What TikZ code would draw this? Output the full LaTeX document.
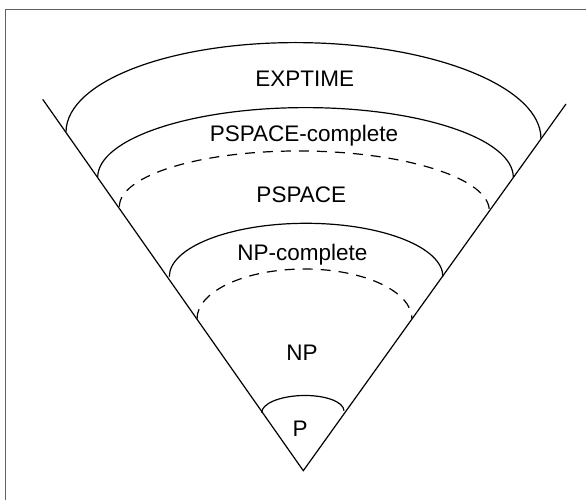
\documentclass[tikz,border=0pt]{standalone}
\usepackage{fontspec}
\setmainfont{Liberation Sans}
\begin{document}
\begin{tikzpicture}[x=1pt,y=1pt,
  frame/.style={draw=black!62,line width=1pt},
  cone/.style={line width=1.2pt,black,line join=miter},
  band/.style={line width=1.2pt,black},
  inner/.style={band,dash pattern=on 10pt off 8pt},
  lbl/.style={font=\fontsize{22.5}{27}\selectfont,inner sep=0pt,anchor=base}]
\useasboundingbox (0,0) rectangle (586,499);
% page frame (top and left edges)
\draw[frame] (5.5,-5) -- (5.5,489.7) -- (600,489.7);

% the cone
\coordinate (apex) at (303.3,28.3);
\coordinate (lt) at (42.7,399.7);
\coordinate (rt) at (566,395);
\draw[cone] (lt) -- (apex) -- (rt);

% band boundaries, left ends on the cone
\coordinate (eExp) at (66,367.3);
\coordinate (ePsc) at (97.7,321.7);
\coordinate (ePs)  at (119.3,292.3);
\coordinate (eNpc) at (169.3,222.3);
\coordinate (eNp)  at (197,180);
\coordinate (eP)   at (261.7,86.3);

\draw[band,rotate around={-0.88:(eExp)}] (eExp) arc[start angle=180,end angle=0,x radius=237.5,y radius=92.7];
\draw[band] (ePsc) arc[start angle=180,end angle=0,x radius=207.8,y radius=69.7];
\draw[inner,rotate around={-0.62:(ePs)}] (ePs) arc[start angle=180,end angle=0,x radius=185,y radius=57.7];
\draw[band] (eNpc) arc[start angle=180,end angle=0,x radius=136.8,y radius=53.4];
\draw[inner] (eNp) arc[start angle=180,end angle=0,x radius=107.5,y radius=50];
\draw[band,rotate around={1.4:(eP)}] (eP) arc[start angle=180,end angle=0,x radius=41.15,y radius=16.2];

% class labels
\node[lbl] (exptime) at (304.7,412.3) {EXPTIME};
\node[lbl] (pspacec) at (304,357.3) {PSPACE-complete};
\node[lbl] (pspace)  at (301.3,296.3) {PSPACE};
\node[lbl] (npc)     at (302.5,239) {NP-complete};
\node[lbl] (np)      at (302,139) {NP};
\node[lbl] (p)       at (300,62.3) {P};
\end{tikzpicture}
\end{document}
